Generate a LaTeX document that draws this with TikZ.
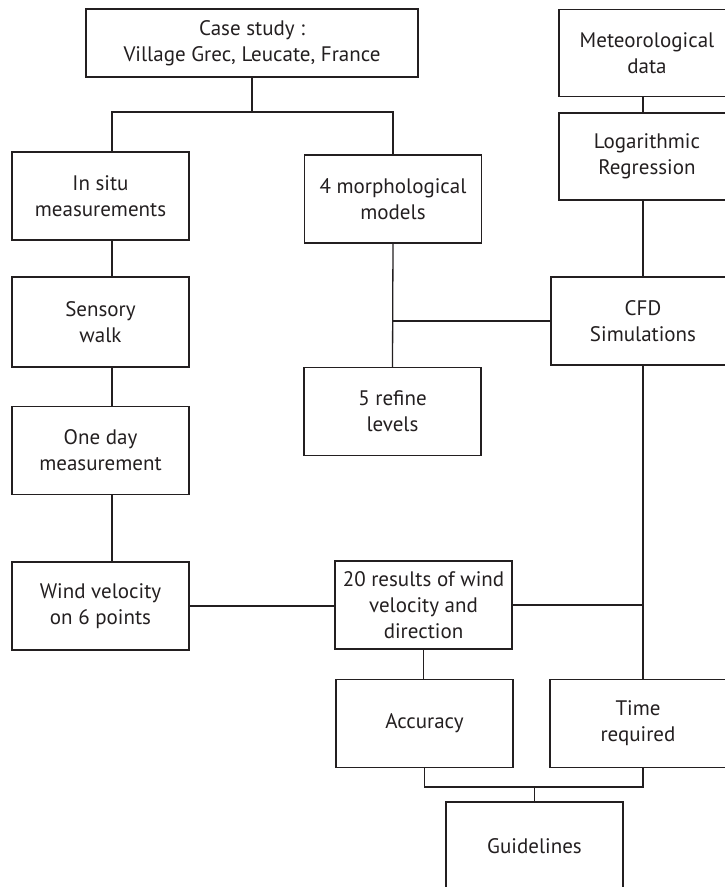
\documentclass[tikz,border=0pt]{standalone}
\usepackage{fontspec}
\setmainfont{PT Sans}
\usepackage{tikz}
\definecolor{trazo}{RGB}{35,31,32}

\begin{document}
\begin{tikzpicture}[x=1pt, y=-1pt,
  caja/.style={draw=trazo, line width=1.3pt, minimum width=177pt, minimum height=88pt,
    inner sep=0pt, align=center, text=trazo, font=\fontsize{21}{26}\selectfont},
  linea/.style={draw=trazo, line width=1.3pt}]
\clip (0,0) rectangle (725,887);
% Ejes de conexion
\coordinate (lspine) at (112,0);
\coordinate (rspine) at (643,0);
\coordinate (ramaCaso) at (252,112);
\coordinate (junta) at (534.5,787);
% Caso de estudio
\node[caja, minimum width=332pt, minimum height=68pt] (caso) at (252,43) {Case study :\\Village Grec, Leucate, France};
% Columna izquierda
\node[caja] (insitu) at (100.5,196) {In situ\\measurements};
\node[caja, minimum height=90pt] (sensorial) at (100.5,322) {Sensory\\walk};
\node[caja] (unday) at (100.5,450.5) {One day\\measurement};
\node[caja] (viento) at (100.5,606) {Wind velocity\\on 6 points};
% Columna central
\node[caja] (morfo) at (393,199) {4 morphological\\models};
\node[caja] (refinado) at (392.5,411.5) {5 refine\\levels};
\node[caja] (resultados) at (423.5,605) {20 results of wind\\velocity and\\direction};
\node[caja] (precision) at (424.5,723.5) {Accuracy};
\node[caja] (guias) at (534.5,846) {Guidelines};
% Columna derecha
\node[caja, minimum width=176pt, minimum height=87pt] (meteo) at (647,53) {Meteorological\\data};
\node[caja, minimum width=176pt, minimum height=87pt] (log) at (647,156.5) {Logarithmic\\Regression};
\node[caja, minimum width=184pt] (cfd) at (643,321) {CFD\\Simulations};
\node[caja, minimum width=176pt] (tiempo) at (638,723.5) {Time\\required};
% Conexiones
\draw[linea] (caso.south) -- (ramaCaso);
\draw[linea] (insitu.north -| lspine) |- (morfo.north |- ramaCaso) -- (morfo.north);
\draw[linea] (insitu.south -| lspine) -- (sensorial.north -| lspine);
\draw[linea] (sensorial.south -| lspine) -- (unday.north -| lspine);
\draw[linea] (unday.south -| lspine) -- (viento.north -| lspine);
\draw[linea] (viento.east) -- (viento.east -| resultados.west);
\draw[linea] (morfo.south) -- (refinado.north);
\draw[linea] (morfo.south |- cfd.west) -- (cfd.west);
\draw[linea] (meteo.south -| rspine) -- (log.north -| rspine);
\draw[linea] (log.south -| rspine) -- (cfd.north -| rspine);
\draw[linea] (cfd.south -| rspine) -- (tiempo.north -| rspine);
\draw[linea] (resultados.east) -- (resultados.east -| rspine);
\draw[linea] (resultados.south) -- (resultados.south |- precision.north);
\draw[linea] (precision.south) |- (junta) -| (tiempo.south -| rspine);
\draw[linea] (junta) -- (guias.north);
\end{tikzpicture}
\end{document}
